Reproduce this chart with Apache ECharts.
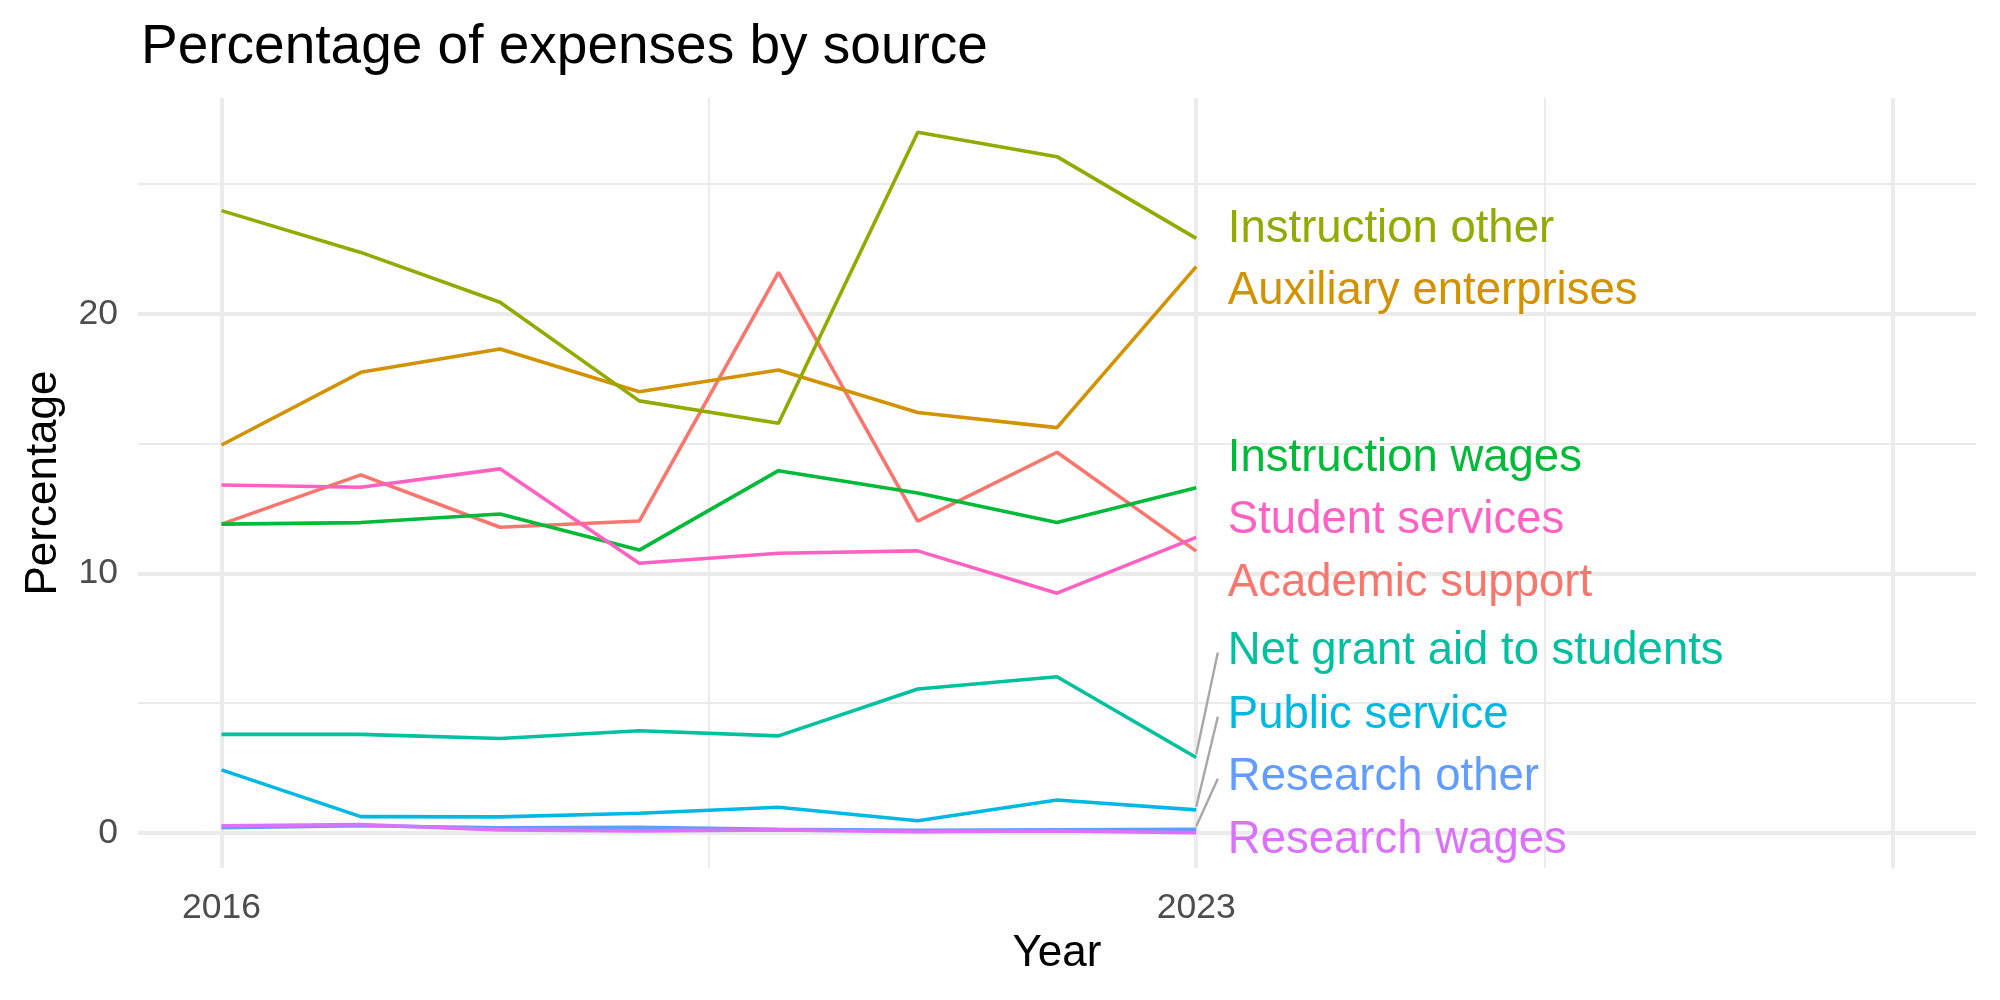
<!DOCTYPE html>
<html>
<head>
<meta charset="utf-8">
<script src="https://cdn.jsdelivr.net/npm/echarts@6/dist/echarts.min.js"></script>
<style>
html, body { margin: 0; padding: 0; background: #fff; }
#chart { width: 2000px; height: 1000px; }
</style>
</head>
<body>
<div id="chart"></div>
<script>
// values
var years = [2016, 2017, 2018, 2019, 2020, 2021, 2022, 2023];

var academicSupport      = [11.90, 13.80, 11.78, 12.02, 21.60, 12.02, 14.67, 10.86];
var auxiliaryEnterprises = [14.95, 17.75, 18.65, 17.00, 17.84, 16.20, 15.62, 21.82];
var instructionOther     = [23.98, 22.37, 20.45, 16.65, 15.79, 27.00, 26.06, 22.91];
var instructionWages     = [11.90, 11.96, 12.29, 10.90, 13.96, 13.10, 11.96, 13.30];
var netGrantAid          = [3.80, 3.80, 3.64, 3.94, 3.74, 5.55, 6.02, 2.91];
var publicService        = [2.43, 0.63, 0.62, 0.76, 0.99, 0.47, 1.27, 0.89];
var researchOther        = [0.20, 0.28, 0.20, 0.22, 0.14, 0.10, 0.12, 0.14];
var researchWages        = [0.28, 0.32, 0.12, 0.08, 0.12, 0.05, 0.08, 0.01];
var studentServices      = [13.41, 13.32, 14.03, 10.39, 10.78, 10.87, 9.24, 11.39];

var sourceNames = ['Academic support', 'Auxiliary enterprises', 'Instruction other',
	'Instruction wages', 'Net grant aid to students', 'Public service',
	'Research other', 'Research wages', 'Student services'];
var sourceValues = [academicSupport, auxiliaryEnterprises, instructionOther,
	instructionWages, netGrantAid, publicService, researchOther, researchWages, studentServices];
var sourceColors = ['#F8766D', '#D39200', '#93AA00', '#00BA38', '#00C19F',
	'#00B9E3', '#619CFF', '#DB72FB', '#FF61C3'];

// repelled label positions (data units) and which ones get a leader segment
var labelX = 2023.227;
var labelY = [9.60, 20.85, 23.24, 14.45, 6.98, 4.51, 2.12, -0.30, 12.03];
var hasSegment = [false, false, false, false, true, true, true, false, false];
var segmentEndX = 2023.155;

var xTicks = [2016, 2023];
var yTicks = [0, 10, 20];
var xMajorGrid = [2016, 2023, 2028];
var xMinorGrid = [2019.5, 2025.5];
var yMajorGrid = [0, 10, 20];
var yMinorGrid = [5, 15, 25];

var FONT = 'Liberation Sans, Arial, Helvetica, sans-serif';
var GRID_COLOR = '#EBEBEB';

function gridLines(axis, values, width) {
	return values.map(function(v) {
		var d = {};
		d[axis] = v;
		d.lineStyle = { color: GRID_COLOR, width: width, type: 'solid' };
		return d;
	});
}

var series = [];

// background gridlines (kept under everything else)
series.push({
	type: 'line',
	data: [],
	z: 0,
	silent: true,
	markLine: {
		z: 0,
		silent: true,
		symbol: ['none', 'none'],
		label: { show: false },
		animation: false,
		data: gridLines('xAxis', xMinorGrid, 1.9)
			.concat(gridLines('yAxis', yMinorGrid, 1.9))
			.concat(gridLines('xAxis', xMajorGrid, 3.8))
			.concat(gridLines('yAxis', yMajorGrid, 3.8))
	}
});

// leader segments
sourceNames.forEach(function(name, i) {
	if (!hasSegment[i]) return;
	var last = sourceValues[i][sourceValues[i].length - 1];
	series.push({
		type: 'line',
		z: 2,
		silent: true,
		symbol: 'none',
		lineStyle: { color: '#A8A8A8', width: 2.4 },
		data: [[years[years.length - 1], last + 0.12], [segmentEndX, labelY[i] - 0.03]]
	});
});

// data lines
sourceNames.forEach(function(name, i) {
	series.push({
		name: name,
		type: 'line',
		z: 3,
		symbol: 'none',
		lineStyle: { color: sourceColors[i], width: 3.6, opacity: 1 },
		itemStyle: { color: sourceColors[i] },
		data: years.map(function(y, k) { return [y, sourceValues[i][k]]; })
	});
});

// direct labels
series.push({
	type: 'scatter',
	z: 6,
	silent: true,
	symbolSize: 0,
	itemStyle: { opacity: 1 },
	data: sourceNames.map(function(name, i) {
		return {
			name: name,
			value: [labelX, labelY[i]],
			label: { color: sourceColors[i] }
		};
	}),
	label: {
		show: true,
		position: 'right',
		distance: 0,
		opacity: 1,
		textBorderWidth: 0,
		formatter: function(p) { return p.name; },
		fontFamily: FONT,
		fontSize: 45.5
	}
});

var option = {
	animation: false,
	backgroundColor: '#ffffff',
	title: {
		text: 'Percentage of expenses by source',
		left: 136,
		top: 15,
		textStyle: { fontFamily: FONT, fontSize: 55, fontWeight: 'normal', color: '#000000' }
	},
	grid: { left: 138, right: 24, top: 98, bottom: 132, containLabel: false, outerBoundsMode: 'none' },
	xAxis: {
		type: 'value',
		min: 2015.4,
		max: 2028.6,
		name: 'Year',
		nameLocation: 'middle',
		nameGap: 64,
		nameTextStyle: { fontFamily: FONT, fontSize: 44, color: '#000000' },
		axisLine: { show: false },
		axisTick: { show: false },
		splitLine: { show: false },
		axisLabel: {
			customValues: xTicks,
			formatter: function(v) { return String(v); },
			fontFamily: FONT,
			fontSize: 35.5,
			color: '#4D4D4D',
			margin: 22
		}
	},
	yAxis: {
		type: 'value',
		min: -1.35,
		max: 28.32,
		name: 'Percentage',
		nameLocation: 'middle',
		nameGap: 72,
		nameTextStyle: { fontFamily: FONT, fontSize: 44, color: '#000000' },
		axisLine: { show: false },
		axisTick: { show: false },
		splitLine: { show: false },
		axisLabel: {
			customValues: yTicks,
			formatter: function(v) { return String(v); },
			fontFamily: FONT,
			fontSize: 35.5,
			color: '#4D4D4D',
			margin: 20
		}
	},
	series: series
};

var myChart = echarts.init(document.getElementById('chart'), null, { renderer: 'canvas' });
myChart.setOption(option);
</script>
</body>
</html>
